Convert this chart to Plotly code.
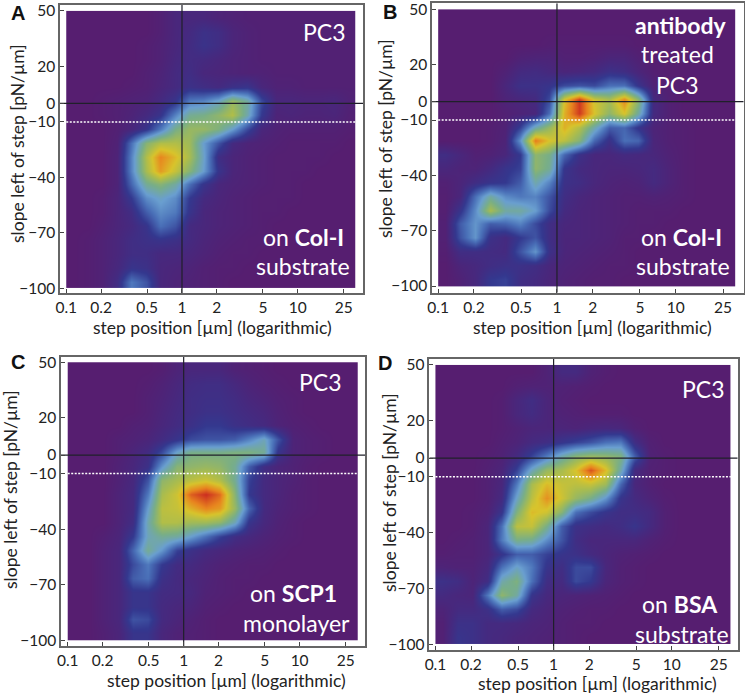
import plotly.graph_objects as go

# cell centres: log10(step position) and slope
log_x = [-0.9375,-0.8125,-0.6875,-0.5625,-0.4375,-0.3125,-0.1875,-0.0625,0.0625,0.1875,0.3125,0.4375,0.5625,0.6875,0.8125,0.9375,1.0625,1.1875,1.3125,1.4375]
slope = [46.25,38.75,31.25,23.75,16.25,8.75,1.25,-6.25,-13.75,-21.25,-28.75,-36.25,-43.75,-51.25,-58.75,-66.25,-73.75,-81.25,-88.75,-96.25]
x_ticks = [0.1,0.2,0.5,1,2,5,10,25]
x_labels = ["0.1","0.2","0.5","1","2","5","10","25"]
y_ticks = [50,20,0,-10,-40,-70,-100]

density_a = [
[0,0,0,0,0,0,2,6,6,6,4,3,2,2,2,2,2,2,2,2],
[0,0,0,0,0,0,2,6,8,12,10,5,3,2,2,2,2,2,2,2],
[0,0,0,0,0,1,3,6,9,13,10,5,3,2,2,2,2,2,2,2],
[0,0,0,0,0,1,3,7,9,8,6,4,3,2,2,2,2,2,2,2],
[0,0,0,0,0,2,4,8,10,6,5,4,3,3,2,2,2,2,2,2],
[0,0,0,0,1,2,5,8,12,10,8,12,14,6,3,3,2,2,2,2],
[0,0,1,2,3,4,8,14,30,32,40,58,46,20,6,6,5,5,6,3],
[0,0,1,2,4,8,14,32,48,50,56,64,44,16,4,5,4,4,5,2],
[0,0,0,2,6,14,30,50,58,58,52,38,20,6,3,2,2,2,2,1],
[0,0,0,3,28,54,64,64,60,38,22,8,4,3,2,1,1,1,1,0],
[0,0,0,4,32,64,84,74,62,40,10,5,3,2,1,1,1,1,0,0],
[0,0,0,4,32,62,80,68,54,38,14,5,3,2,1,1,1,0,0,0],
[0,0,0,4,26,48,54,46,28,14,6,4,3,2,1,1,0,0,0,0],
[0,0,1,5,16,34,40,34,16,8,5,3,2,1,1,1,0,0,0,0],
[0,0,1,5,10,24,34,30,14,6,4,3,2,1,1,0,0,0,0,0],
[0,0,2,5,8,14,28,22,8,6,4,3,2,1,0,0,0,0,0,0],
[0,1,3,6,10,12,14,12,8,5,3,2,1,1,0,0,0,0,0,0],
[0,1,3,6,10,10,7,7,6,4,2,1,1,0,0,0,0,0,0,0],
[0,1,3,7,14,12,6,5,4,2,1,1,0,0,0,0,0,0,0,0],
[0,1,3,10,30,22,6,4,3,2,1,0,0,0,0,0,0,0,0,0],
]

density_b = [
[0,0,0,0,0,0,0,0,0,0,0,0,0,0,0,0,0,0,0,0],
[0,0,0,0,0,0,0,0,0,0,0,0,0,0,0,0,0,0,0,0],
[0,0,0,0,0,0,0,1,1,1,1,1,1,0,0,0,0,0,0,0],
[0,0,0,0,0,3,4,4,2,2,3,5,5,2,0,0,0,0,0,0],
[0,0,0,0,3,8,9,7,5,6,8,12,10,5,1,0,0,0,0,0],
[0,0,0,0,6,12,12,14,20,22,20,28,28,14,3,1,0,0,0,0],
[0,0,0,0,4,6,8,20,72,96,70,62,84,55,8,2,0,0,0,0],
[0,0,0,0,2,4,6,28,76,96,72,56,72,46,8,2,0,0,0,0],
[0,0,0,1,3,18,44,58,76,64,44,24,26,14,4,2,1,0,0,0],
[0,0,0,1,4,36,86,72,66,54,26,12,28,26,5,2,1,0,0,0],
[10,6,2,3,6,16,56,50,26,12,6,6,8,7,6,3,1,0,0,0],
[6,4,4,8,14,18,56,48,14,8,6,5,5,6,8,4,1,0,0,0],
[2,5,10,14,16,24,44,32,12,10,6,4,3,4,8,4,1,0,0,0],
[1,6,28,46,34,30,32,22,10,6,4,3,2,2,3,2,1,0,0,0],
[1,14,34,62,46,46,38,20,8,5,4,3,2,1,1,1,0,0,0,0],
[2,24,36,24,26,32,20,10,6,5,4,3,2,1,1,0,0,0,0,0],
[2,22,36,12,8,16,22,10,5,5,4,3,1,1,0,0,0,0,0,0],
[1,10,10,9,8,22,36,12,5,4,3,2,1,0,0,0,0,0,0,0],
[0,5,7,10,12,12,10,6,4,3,2,1,1,0,0,0,0,0,0,0],
[0,3,7,16,18,10,8,5,3,2,1,1,0,0,0,0,0,0,0,0],
]

density_c = [
[0,0,0,0,0,0,1,4,6,6,6,3,2,1,0,0,0,0,0,0],
[0,0,0,0,0,1,3,6,9,10,10,7,4,2,1,0,0,0,0,0],
[0,0,0,0,0,2,4,7,10,11,11,9,6,4,2,1,0,0,0,0],
[0,0,0,0,0,2,5,8,10,12,12,10,8,6,3,1,0,0,0,0],
[0,0,0,0,2,3,6,9,12,16,16,12,10,8,4,2,1,0,0,0],
[0,0,0,2,3,5,9,14,20,22,22,24,32,42,22,4,2,1,0,0],
[0,0,0,2,5,9,20,40,50,50,50,52,52,48,14,4,2,1,0,0],
[0,0,0,3,6,12,36,54,56,58,56,48,24,10,5,3,1,0,0,0],
[0,0,0,3,7,22,56,62,66,70,64,48,18,8,5,3,1,0,0,0],
[0,0,0,4,8,30,62,70,90,98,88,54,16,8,5,2,1,0,0,0],
[0,0,0,4,8,38,66,68,76,84,80,58,26,8,4,2,1,0,0,0],
[0,0,0,4,10,44,64,64,60,60,56,42,14,7,3,1,0,0,0,0],
[0,0,2,5,16,42,48,46,38,28,18,10,7,4,2,1,0,0,0,0],
[0,0,3,6,26,48,36,18,12,8,6,4,3,2,1,0,0,0,0,0],
[0,0,3,6,20,30,16,9,8,5,3,2,1,1,0,0,0,0,0,0],
[0,0,3,6,24,28,12,8,6,4,2,1,1,0,0,0,0,0,0,0],
[0,0,3,6,14,14,9,8,7,3,2,1,0,0,0,0,0,0,0,0],
[0,0,3,6,14,14,8,6,5,2,1,0,0,0,0,0,0,0,0,0],
[0,0,3,6,22,20,8,5,3,1,0,0,0,0,0,0,0,0,0,0],
[0,0,2,5,14,14,6,3,2,1,0,0,0,0,0,0,0,0,0,0],
]

density_d = [
[0,0,0,0,0,0,0,3,8,8,3,1,0,0,0,0,0,0,0,0],
[0,0,0,0,0,2,3,3,3,2,1,0,0,0,0,0,0,0,0,0],
[0,0,0,0,1,6,10,5,2,1,0,0,0,0,0,0,0,0,0,0],
[0,0,0,0,1,6,9,5,3,2,1,1,1,0,0,0,0,0,0,0],
[0,0,0,0,1,3,5,5,5,4,6,7,6,2,0,0,0,0,0,0],
[0,0,0,0,2,4,8,10,14,18,22,28,30,10,2,0,0,0,0,0],
[0,0,0,1,3,8,18,30,44,54,58,56,52,24,3,1,0,0,0,0],
[0,0,0,2,5,18,42,58,62,72,92,74,44,8,2,1,0,0,0,0],
[0,0,0,2,6,30,62,74,68,66,68,60,26,6,2,0,0,0,0,0],
[0,0,0,2,8,40,66,82,70,58,50,36,14,8,4,1,0,0,0,0],
[0,0,1,3,14,52,74,70,54,28,20,14,10,10,8,2,0,0,0,0],
[0,0,1,5,28,66,68,50,24,12,10,8,10,14,8,2,0,0,0,0],
[0,1,2,5,30,50,48,34,22,10,6,6,6,6,3,1,0,0,0,0],
[1,2,2,5,14,24,24,18,14,12,8,5,3,2,1,0,0,0,0,0],
[4,3,3,7,28,40,30,14,10,20,20,6,2,1,0,0,0,0,0,0],
[12,10,4,10,44,52,28,10,8,20,16,5,2,1,0,0,0,0,0,0],
[8,6,5,30,56,46,14,7,5,4,3,2,1,0,0,0,0,0,0,0],
[4,8,8,12,24,20,8,5,3,2,1,1,0,0,0,0,0,0,0,0],
[2,12,12,8,8,7,5,4,2,1,1,0,0,0,0,0,0,0,0,0],
[2,14,12,8,7,5,4,3,2,1,0,0,0,0,0,0,0,0,0,0],
]

colors = [[0,"#561e70"],[0.08,"#452a80"],[0.16,"#34388f"],[0.28,"#4a70b8"],[0.38,"#6a9fd0"],[0.5,"#78ae88"],[0.62,"#a8bc50"],[0.72,"#d8c42c"],[0.84,"#e8861f"],[1,"#c82020"]]

FW, FH = 745, 696
panels = [
 dict(z=density_a, frame=(60,363,5,293), xr=(-1.054,1.564), yr=(-102.5,53.2), letter="A", lxy=(18,13),
      texts=[("PC3",324,32),("on <b>Col-I</b>",303,237),("substrate",303,266)], xt=(212,327), yt=(18,144)),
 dict(z=density_b, frame=(432,743.7,3.3,292.7), xr=(-1.052,1.572), yr=(-103.6,53.3), letter="B", lxy=(390,12),
      texts=[("<b>antibody</b>",681,25),("treated",677,54),("PC3",677,85),("on <b>Col-I</b>",681,237),("substrate",683,266)], xt=(592,327), yt=(386,139)),
 dict(z=density_c, frame=(61,365,356.7,646), xr=(-1.058,1.564), yr=(-102.9,53), letter="C", lxy=(18,362),
      texts=[("PC3",320,382),("on <b>SCP1</b>",293,593),("monolayer",296,623)], xt=(226,680), yt=(11,490)),
 dict(z=density_d, frame=(429.3,737.7,359,650), xr=(-1.052,1.558), yr=(-103.1,53.2), letter="D", lxy=(385,363),
      texts=[("PC3",703,389),("on <b>BSA</b>",680,604),("substrate",682,634)], xt=(597,683), yt=(389,493)),
]

fig = go.Figure()
layout = dict(width=FW, height=FH, margin=dict(l=0,r=0,t=0,b=0,pad=0,autoexpand=False), paper_bgcolor="white", plot_bgcolor="white",
              showlegend=False, font=dict(family="Lato", size=16, color="#222"))
anns = []
x_real = [10**v for v in log_x]
for i, p in enumerate(panels):
    s = "" if i == 0 else str(i+1)
    L,R,T,B = p["frame"]
    xa, ya = "x"+s, "y"+s
    fig.add_trace(go.Heatmap(x=x_real, y=slope, z=p["z"], zmin=0, zmax=100, zsmooth="best", colorscale=colors,
                             showscale=False, xaxis=xa, yaxis=ya, hoverinfo="skip"))
    xlo, xhi = 10**p["xr"][0], 10**p["xr"][1]
    fig.add_trace(go.Scatter(x=[1,1], y=list(p["yr"]), mode="lines", line=dict(color="#20202a", width=1.2), xaxis=xa, yaxis=ya, hoverinfo="skip"))
    fig.add_trace(go.Scatter(x=[xlo,xhi], y=[0,0], mode="lines", line=dict(color="#20202a", width=1.2), xaxis=xa, yaxis=ya, hoverinfo="skip"))
    fig.add_trace(go.Scatter(x=[0.1,10**1.5], y=[-10,-10], mode="lines", line=dict(color="white", width=1.5, dash="2px,1.5px"), xaxis=xa, yaxis=ya, hoverinfo="skip"))
    layout["xaxis"+s] = dict(type="log", domain=[L/FW,R/FW], range=list(p["xr"]), anchor=ya, tickmode="array", tickvals=x_ticks, ticktext=x_labels,
                             ticks="inside", ticklen=4, tickwidth=1, tickcolor="#444", showgrid=False, zeroline=False, ticklabeloverflow="allow",
                             showline=True, linecolor="#666", linewidth=1.5, mirror=True, tickfont=dict(size=15.5, color="#222"), tickangle=0)
    layout["yaxis"+s] = dict(domain=[1-B/FH,1-T/FH], range=list(p["yr"]), anchor=xa, tickmode="array", tickvals=y_ticks,
                             ticks="inside", ticklen=4, tickwidth=1, tickcolor="#444", showgrid=False, zeroline=False, ticklabeloverflow="allow",
                             showline=True, linecolor="#666", linewidth=1.5, mirror=True, tickfont=dict(size=15.5, color="#222"))
    anns.append(dict(text="step position [µm] (logarithmic)", x=p["xt"][0]/FW, y=1-p["xt"][1]/FH, xref="paper", yref="paper", showarrow=False, font=dict(size=17.5, color="#222"), xanchor="center", yanchor="middle"))
    anns.append(dict(text="slope left of step [pN/µm]", x=p["yt"][0]/FW, y=1-p["yt"][1]/FH, xref="paper", yref="paper", showarrow=False, textangle=-90, font=dict(size=17.5, color="#222"), xanchor="center", yanchor="middle"))
    anns.append(dict(text="<b>"+p["letter"]+"</b>", x=p["lxy"][0]/FW, y=1-p["lxy"][1]/FH, xref="paper", yref="paper", showarrow=False, font=dict(family="Liberation Sans", size=20, color="#111"), xanchor="center", yanchor="middle"))
    for t,tx,ty in p["texts"]:
        anns.append(dict(text=t, x=tx/FW, y=1-ty/FH, xref="paper", yref="paper", showarrow=False, font=dict(size=23, color="white"), xanchor="center", yanchor="middle"))
layout["annotations"] = anns
fig.update_layout(**layout)
fig.write_html("out.html", config={"displayModeBar": False}, post_script="document.body.style.margin='0';")
